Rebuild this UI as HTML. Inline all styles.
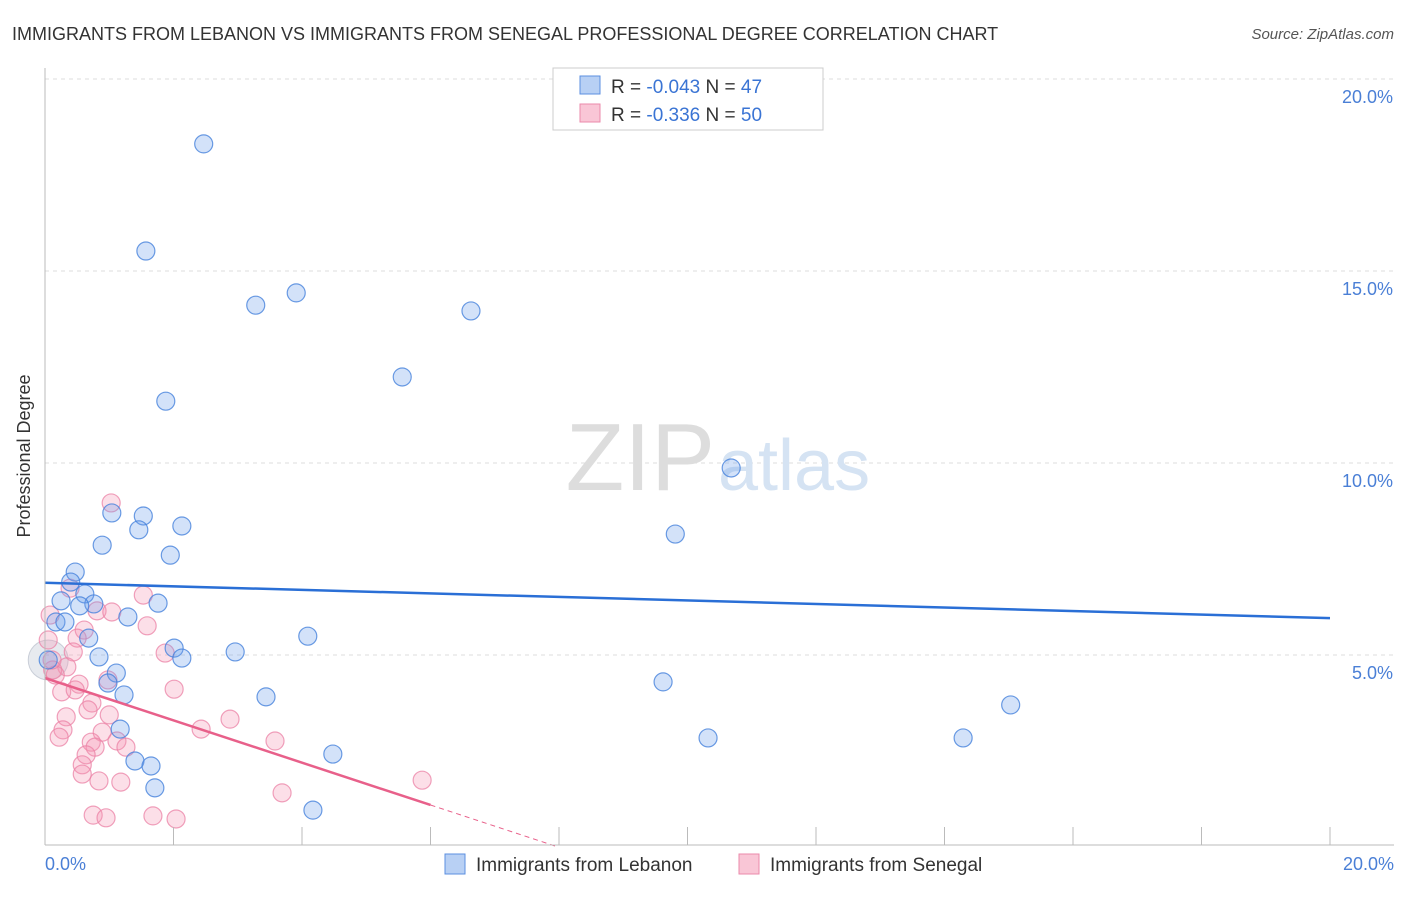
<!DOCTYPE html>
<html><head><meta charset="utf-8"><style>
body{margin:0;background:#fff;font-family:"Liberation Sans",sans-serif;}
svg text{font-family:"Liberation Sans",sans-serif;}
</style></head><body>
<svg id="c" width="1406" height="892">
<text x="12" y="40" font-size="18" fill="#333">IMMIGRANTS FROM LEBANON VS IMMIGRANTS FROM SENEGAL PROFESSIONAL DEGREE CORRELATION CHART</text>
<text x="1394" y="39" font-size="15" fill="#555" text-anchor="end" font-style="italic">Source: ZipAtlas.com</text>
<text x="30" y="456" font-size="18" fill="#333" text-anchor="middle" transform="rotate(-90 30 456)">Professional Degree</text>
<g id="grid"></g>
<text x="715" y="490" font-size="96" fill="#ddd" text-anchor="end" font-family="Liberation Serif">ZIP</text>
<text x="718" y="490" font-size="72" fill="#d5e3f3">atlas</text>
<g id="pts"></g>
<g id="lines"></g>
<line x1="45" y1="68" x2="45" y2="845" stroke="#bbb"/>
<line x1="45" y1="845" x2="1394" y2="845" stroke="#bbb"/>
<g id="ticks"></g>
<text x="45" y="870" font-size="18" fill="#4a7fd6">0.0%</text>
<text x="1394" y="870" font-size="18" fill="#4a7fd6" text-anchor="end">20.0%</text>
<g>
<rect x="553" y="68" width="270" height="62" fill="#fff" stroke="#ccc"/>
<rect x="580" y="76" width="20" height="18" fill="#b8d0f4" stroke="#5b8fe0"/>
<rect x="580" y="104" width="20" height="18" fill="#f9c6d6" stroke="#eb8aab"/>
<text x="611" y="93" font-size="19" fill="#333">R = <tspan fill="#3a74d4">-0.043</tspan>   N = <tspan fill="#3a74d4">47</tspan></text>
<text x="611" y="121" font-size="19" fill="#333">R = <tspan fill="#3a74d4">-0.336</tspan>   N = <tspan fill="#3a74d4">50</tspan></text>
</g>
<g>
<rect x="445" y="854" width="20" height="20" fill="#b8d0f4" stroke="#5b8fe0"/>
<text x="476" y="871" font-size="19" fill="#333">Immigrants from Lebanon</text>
<rect x="739" y="854" width="20" height="20" fill="#f9c6d6" stroke="#eb8aab"/>
<text x="770" y="871" font-size="19" fill="#333">Immigrants from Senegal</text>
</g>
</svg>
<script>
const yTicks=[5,10,15,20];
const yTickLabels=["5.0%","10.0%","15.0%","20.0%"];
const xTicks=[0,2,4,6,8,10,12,14,16,18,20];
const lebX=[2.47,1.57,3.28,3.91,6.63,5.56,1.88,10.68,1.04,1.53,2.13,1.46,0.89,1.95,9.81,0.47,0.40,0.62,0.25,0.76,0.54,1.76,0.17,1.29,0.31,0.68,4.09,2.01,0.84,2.13,2.96,1.11,0.98,1.23,3.44,9.62,15.03,1.17,10.32,14.29,4.48,1.40,1.65,1.71,4.17,0.05];
const lebY=[18.31,15.52,14.11,14.43,13.96,12.24,11.61,9.87,8.70,8.62,8.36,8.26,7.86,7.60,8.15,7.16,6.90,6.59,6.41,6.33,6.28,6.35,5.86,5.99,5.86,5.44,5.49,5.18,4.95,4.92,5.08,4.53,4.27,3.96,3.91,4.30,3.70,3.07,2.84,2.84,2.42,2.24,2.11,1.54,0.96,4.87];
const senX=[1.03,1.53,0.81,1.04,1.59,0.61,0.50,0.44,1.87,0.34,0.12,0.16,0.53,0.26,0.47,0.98,2.01,0.73,0.67,0.33,1.00,2.88,2.43,0.28,0.22,0.89,1.12,0.72,1.26,3.58,0.78,0.64,0.58,0.58,0.84,1.18,3.69,0.75,0.95,1.68,2.04,5.87,0.39,0.08,0.05,0.11];
const senY=[8.96,6.56,6.15,6.12,5.76,5.65,5.44,5.08,5.05,4.69,4.61,4.48,4.24,4.04,4.09,4.35,4.11,3.75,3.57,3.39,3.44,3.33,3.07,3.05,2.86,2.99,2.76,2.73,2.60,2.76,2.60,2.40,2.14,1.90,1.72,1.69,1.41,0.83,0.76,0.81,0.73,1.74,6.74,6.04,5.39,4.87];
const lebTrend=[6.88,5.96];
const senTrend=[4.40,-0.551];
const sx=v=>45+v*64.25, sy=v=>847-v*38.4;
const NS="http://www.w3.org/2000/svg";
function mk(tag,attrs,parent){const e=document.createElementNS(NS,tag);for(const k in attrs)e.setAttribute(k,attrs[k]);document.getElementById(parent).appendChild(e);return e;}
yTicks.forEach((t,i)=>{
 const l=mk('line',{x1:45,x2:1394,y1:sy(t),y2:sy(t),stroke:'#ddd','stroke-dasharray':'4 4'},'grid');
 
 
 const tx=mk('text',{x:1393,y:sy(t)+24,'font-size':18,fill:'#4a7fd6','text-anchor':'end'},'grid');
 tx.textContent=yTickLabels[i];
 
 
});
xTicks.forEach(t=>{
 const l=mk('line',{x1:sx(t),x2:sx(t),y1:827,y2:845,stroke:'#bbb'},'ticks');
 
 
});
const big=mk('circle',{cx:sx(0.05),cy:sy(4.87),r:20,fill:'rgba(160,170,190,0.25)',stroke:'rgba(140,150,170,0.4)'},'pts');


senX.forEach((x,i)=>{
 const c=mk('circle',{cx:sx(x),cy:sy(senY[i]),r:9,fill:'rgba(245,150,180,0.3)',stroke:'rgba(235,130,165,0.75)','stroke-width':1.2},'pts');
 
 
});
lebX.forEach((x,i)=>{
 const c=mk('circle',{cx:sx(x),cy:sy(lebY[i]),r:9,fill:'rgba(110,160,235,0.3)',stroke:'rgba(70,130,220,0.8)','stroke-width':1.2},'pts');
 
 
});
const bl=mk('line',{x1:sx(0),y1:sy(lebTrend[0]),x2:sx(20),y2:sy(lebTrend[1]),stroke:'#2a6fd6','stroke-width':2.5},'lines');


const pEnd=6,pZero=-senTrend[0]/senTrend[1];
const pl=mk('line',{x1:sx(0),y1:sy(senTrend[0]),x2:sx(pEnd),y2:sy(senTrend[0]+senTrend[1]*pEnd),stroke:'#e8608a','stroke-width':2.5},'lines');


const pd=mk('line',{x1:sx(pEnd),y1:sy(senTrend[0]+senTrend[1]*pEnd),x2:sx(pZero),y2:sy(0),stroke:'#e8608a','stroke-width':1,'stroke-dasharray':'5 4'},'lines');


</script>
</body></html>
